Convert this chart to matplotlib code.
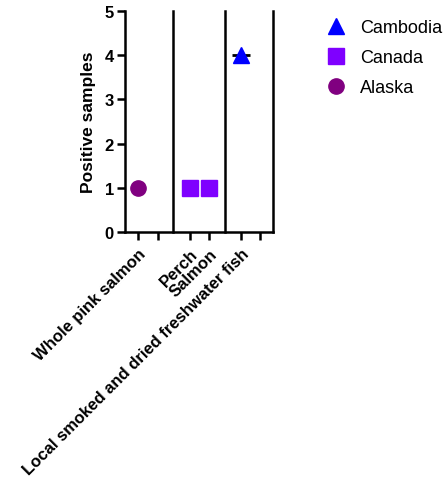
import matplotlib.pyplot as plt
from matplotlib.lines import Line2D

plt.rcParams['font.family'] = ['Liberation Sans', 'DejaVu Sans']

# categories per tick slot (empty slots have no label)
tick_labels = ["Whole pink salmon", "", "Perch", "Salmon",
               "Local smoked and dried freshwater fish", ""]
tick_pos = [0, 1, 2.65, 3.62, 5.26, 6.22]
separators = [1.78, 4.44]

# points: (slot index, value)
alaska_slots = [0]
alaska_vals = [1]
canada_slots = [2, 3]
canada_vals = [1, 1]
cambodia_slots = [4]
cambodia_vals = [4]

c_cambodia = '#0000FF'
c_canada = '#7F00FF'
c_alaska = '#800080'

fig = plt.figure(figsize=(4.47, 4.81), dpi=100)
ax = fig.add_axes([125 / 447, 1 - 233 / 481, 148 / 447, 221 / 481])

for s in separators:
    ax.plot([s, s], [0, 5], color='black', lw=1.8, zorder=1, clip_on=False)

# median line for Cambodia group
ax.plot([tick_pos[i] for i in cambodia_slots], cambodia_vals, marker='_',
        color='black', markersize=13, mew=2, ls='none', zorder=2)
ax.plot([tick_pos[i] for i in cambodia_slots], cambodia_vals, marker='^',
        color=c_cambodia, markersize=12, ls='none', zorder=3)
ax.plot([tick_pos[i] for i in canada_slots], canada_vals, marker='s',
        color=c_canada, markersize=11.5, ls='none', zorder=3)
ax.plot([tick_pos[i] for i in alaska_slots], alaska_vals, marker='o',
        color=c_alaska, markersize=11, ls='none', zorder=3)

ax.set_xlim(-0.66, 6.89)
ax.set_ylim(0, 5)
ax.set_yticks(range(6))
ax.set_yticklabels([str(v) for v in range(6)], fontsize=12, fontweight='bold')
ax.set_xticks(tick_pos)
ax.set_xticklabels(tick_labels, rotation=45, ha='right', va='top',
                   rotation_mode='anchor', fontsize=12, fontweight='bold')
ax.tick_params(axis='both', width=1.8, length=6, direction='out')
ax.tick_params(axis='x', pad=4)
ax.tick_params(axis='y', pad=2)
ax.set_ylabel('Positive samples', fontsize=12.5, fontweight='bold', labelpad=6)

ax.spines['top'].set_visible(False)
for sp in ['left', 'right', 'bottom']:
    ax.spines[sp].set_linewidth(1.8)

handles = [
    Line2D([], [], marker='^', color=c_cambodia, ls='none', markersize=12),
    Line2D([], [], marker='s', color=c_canada, ls='none', markersize=11),
    Line2D([], [], marker='o', color=c_alaska, ls='none', markersize=11),
]
fig.legend(handles, ['Cambodia', 'Canada', 'Alaska'], loc='upper left',
           bbox_to_anchor=(320 / 447, 1 - 13 / 481), frameon=False,
           fontsize=13, handlelength=1.0, handletextpad=0.8,
           labelspacing=0.72, borderaxespad=0)

fig.savefig('out.png', dpi=100)
